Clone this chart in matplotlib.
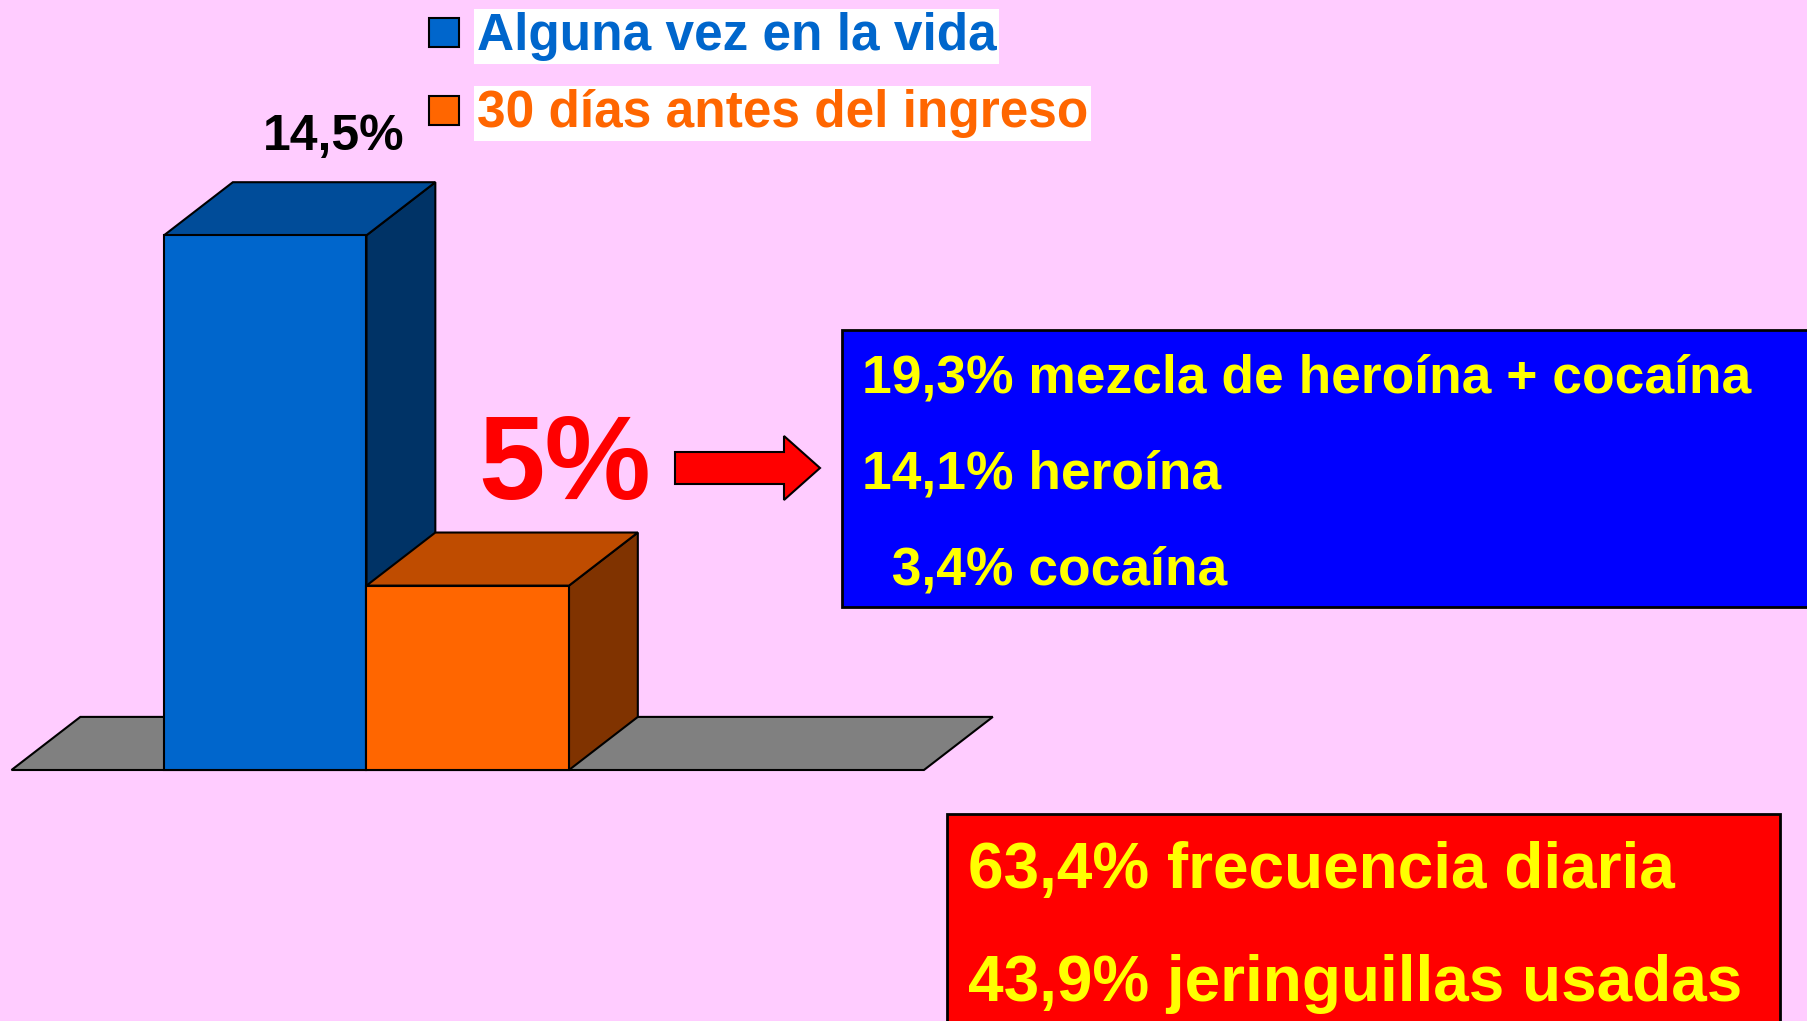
import matplotlib
matplotlib.use('Agg')
import matplotlib.pyplot as plt
from matplotlib.patches import Polygon, Rectangle, FancyArrow

# ---------------- data ----------------
series = ['Alguna vez en la vida', '30 días antes del ingreso']
values = [14.5, 5.0]
value_label = '14,5%'
highlight_label = '5%'
blue_box_lines = ['19,3% mezcla de heroína + cocaína', '14,1% heroína', '  3,4% cocaína']
red_box_lines = ['63,4% frecuencia diaria', '43,9% jeringuillas usadas']

# ---------------- style ----------------
front_colors = ['#0066CC', '#FF6600']
top_colors = ['#004C99', '#BF4C00']
side_colors = ['#003366', '#803300']
legend_text_colors = ['#0066CC', '#FF6600']
BG = '#FFCCFF'
plt.rcParams['font.family'] = ['Liberation Sans', 'DejaVu Sans']
plt.rcParams['font.weight'] = 'bold'

W, H = 1807, 1021
fig = plt.figure(figsize=(W / 100, H / 100), dpi=100)
fig.patch.set_facecolor(BG)

# ---------------- 3D bar chart ----------------
px_left, px_right = 11.5, 993
xlo, xhi = -0.753, 4.094
ax = fig.add_axes([px_left / W, 251 / H, (px_right - px_left) / W, 590 / H])
ax.set_xlim(xlo, xhi)
ax.set_ylim(0, 16)
ax.axis('off')
dx, dy = 0.34, 1.44
margin = 0.753
n = len(values)
floor_right = n + 1 + margin
floor = Polygon([(-margin, 0), (floor_right, 0),
                 (floor_right + dx, dy), (-margin + dx, dy)],
                closed=True, fc='#808080', ec='black', lw=1.5, zorder=1, clip_on=False)
ax.add_patch(floor)
for i, v in enumerate(values):
    z = 2 + i
    side = Polygon([(i + 1, 0), (i + 1 + dx, dy), (i + 1 + dx, v + dy), (i + 1, v)],
                   closed=True, fc=side_colors[i], ec='black', lw=1.5, zorder=z, clip_on=False)
    top = Polygon([(i, v), (i + 1, v), (i + 1 + dx, v + dy), (i + dx, v + dy)],
                  closed=True, fc=top_colors[i], ec='black', lw=1.5, zorder=z, clip_on=False)
    ax.add_patch(side)
    ax.add_patch(top)
    ax.bar(i, v, width=1, align='edge', color=front_colors[i], edgecolor='black',
           linewidth=1.5, zorder=z, clip_on=False)
ax.text(0 + 0.5 + dx, values[0] + dy + 0.86, value_label, ha='center', va='baseline',
        fontsize=36, fontweight='bold', color='black', clip_on=False)

# ---------------- overlay (legend, boxes, arrow) ----------------
ov = fig.add_axes([0, 0, 1, 1], zorder=5)
ov.set_xlim(0, W)
ov.set_ylim(H, 0)
ov.axis('off')
ov.patch.set_visible(False)

legend_rows = [(18, 50), (96, 127)]
for (sq_y, base), lab, fc, tc in zip(legend_rows, series, front_colors, legend_text_colors):
    ov.add_patch(Rectangle((429, sq_y), 30, 29, fc=fc, ec='black', lw=1.5))
    ov.text(477, base, lab, ha='left', va='baseline', fontsize=37, fontweight='bold',
            color=tc, bbox=dict(boxstyle='square,pad=0.05', fc='white', ec='none'))

ov.text(565, 499, highlight_label, ha='center', va='baseline', fontsize=86,
        fontweight='bold', color='#FF0000')
ov.add_patch(FancyArrow(675, 468, 145, 0, width=32, head_width=64, head_length=36,
                        length_includes_head=True, fc='#FF0000', ec='black', lw=1.5))

ov.add_patch(Rectangle((842, 330), W - 842 + 20, 277, fc='#0000FF', ec='black', lw=2,
                       clip_on=False))
for line, base in zip(blue_box_lines, [392, 488, 584]):
    ov.text(862, base, line, ha='left', va='baseline', fontsize=38.4, fontweight='bold',
            color='#FFFF00')

ov.add_patch(Rectangle((947, 814), 833, 240, fc='#FF0000', ec='black', lw=2, clip_on=False))
for line, base in zip(red_box_lines, [888, 1001]):
    ov.text(968, base, line, ha='left', va='baseline', fontsize=46, fontweight='bold',
            color='#FFFF00')

fig.savefig('out.png', dpi=100, facecolor=BG)
